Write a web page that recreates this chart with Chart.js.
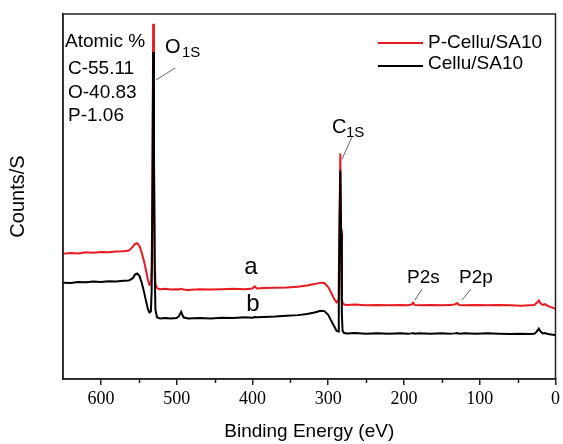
<!DOCTYPE html>
<html>
<head>
<meta charset="utf-8">
<script src="https://cdn.jsdelivr.net/npm/chart.js@4/dist/chart.umd.min.js"></script>
<style>
  html, body { margin: 0; padding: 0; background: #fff; }
  #wrap { width: 563px; height: 444px; }
</style>
</head>
<body>
<div id="wrap"><canvas id="xps"></canvas></div>
<script>
// binding energy (eV)
const energy = [650, 640, 630, 620, 610, 600, 590, 580, 570, 563, 558, 555, 552, 549, 546, 543, 540, 538, 536, 534,
  533, 532, 531, 530, 529, 528, 526, 522, 515, 508, 500, 497, 494, 491, 485, 470, 455, 440, 425, 410,
  400, 397, 394, 385, 370, 355, 340, 328, 318, 310, 305, 300, 296, 292, 289, 287, 286, 285, 284, 283,
  282, 281, 279, 275, 265, 250, 235, 220, 205, 195, 190, 188, 186, 180, 165, 150, 140, 133, 130, 127,
  120, 105, 90, 75, 60, 45, 35, 28, 25, 22, 20, 17, 14, 10, 6, 3, 0]

// counts (arbitrary units, 0-100 of the frame height)
const pCellu = [34.3, 34.5, 34.4, 34.7, 34.6, 34.8, 34.7, 34.9, 35.0, 35.2, 36.2, 37.0, 37.2, 36.4, 34.6, 32.2, 29.4, 27.2, 25.8, 26.0,
  30.0, 53.0, 97.3, 66.0, 34.0, 26.0, 24.9, 24.6, 24.7, 24.5, 24.6, 24.5, 24.7, 24.5, 24.4, 24.6, 24.5, 24.6, 24.7, 24.6,
  24.8, 25.4, 24.8, 24.9, 25.0, 25.1, 25.3, 25.6, 26.0, 26.4, 26.3, 25.2, 23.6, 21.9, 21.0, 21.5, 27.0, 45.0, 61.8, 41.0,
  22.0, 20.8, 20.4, 20.3, 20.4, 20.2, 20.3, 20.2, 20.3, 20.2, 20.4, 20.9, 20.3, 20.2, 20.3, 20.2, 20.3, 20.4, 20.8, 20.3,
  20.2, 20.3, 20.2, 20.3, 20.2, 20.1, 20.2, 20.3, 20.8, 21.5, 20.8, 20.3, 20.5, 20.0, 19.7, 19.5, 19.2]

const cellu = [26.4, 26.3, 26.6, 26.5, 26.7, 26.6, 26.8, 26.7, 26.9, 27.0, 27.6, 28.6, 28.9, 28.2, 26.3, 23.8, 21.0, 19.2, 18.2, 18.5,
  24.0, 50.0, 89.6, 62.0, 30.0, 19.0, 16.9, 16.6, 16.7, 16.6, 16.7, 17.2, 18.4, 16.9, 16.6, 16.7, 16.6, 16.8, 16.7, 16.9,
  16.8, 17.0, 16.9, 17.0, 17.1, 17.3, 17.5, 17.8, 18.2, 18.7, 18.6, 17.6, 16.0, 14.4, 13.2, 13.0, 22.0, 42.0, 57.1, 40.0,
  18.0, 13.2, 12.6, 12.5, 12.6, 12.4, 12.5, 12.4, 12.5, 12.4, 12.5, 12.6, 12.4, 12.5, 12.4, 12.5, 12.4, 12.5, 12.6, 12.4,
  12.5, 12.4, 12.5, 12.4, 12.3, 12.4, 12.3, 12.4, 12.9, 13.8, 13.1, 12.5, 12.6, 12.3, 12.2, 12.1, 12.0]

const seriesNames = ['P-Cellu/SA10', 'Cellu/SA10']
const composition = ['Atomic %', 'C-55.11', 'O-40.83', 'P-1.06']
const minorTicks = [550, 450, 350, 250, 150, 50]

const RED = '#e8191f'
const SANS = '"Liberation Sans", Arial, sans-serif'

const toPoints = (ys) => energy.map((e, i) => ({ x: e, y: ys[i] }))

const decorations = {
  id: 'decorations',
  afterDraw(chart) {
    const { ctx, chartArea: a, scales: { x } } = chart
    ctx.save()

    // frame
    ctx.strokeStyle = '#222'
    ctx.lineWidth = 1.5
    ctx.strokeRect(a.left, a.top, a.right - a.left, a.bottom - a.top)

    // minor ticks
    ctx.beginPath()
    minorTicks.forEach(v => {
      const px = Math.round(x.getPixelForValue(v)) + 0.5
      ctx.moveTo(px, a.bottom)
      ctx.lineTo(px, a.bottom + 4)
    })
    ctx.stroke()

    // atomic composition text
    ctx.fillStyle = '#000'
    ctx.textBaseline = 'middle'
    ctx.textAlign = 'left'
    ctx.font = '19px ' + SANS
    ctx.fillText(composition[0], 65, 42)
    ctx.fillText(composition[1], 68, 68.5)
    ctx.fillText(composition[2], 68, 92.5)
    ctx.fillText(composition[3], 68, 116)

    // peak labels
    ctx.font = '20px ' + SANS
    ctx.fillText('O', 165, 47)
    ctx.fillText('C', 332, 127)
    ctx.font = '15px ' + SANS
    ctx.fillText('1S', 182, 53)
    ctx.fillText('1S', 346, 133)
    ctx.font = '19px ' + SANS
    ctx.fillText('P2s', 407, 278)
    ctx.fillText('P2p', 459, 278)

    ctx.font = '24px ' + SANS
    ctx.textAlign = 'center'
    ctx.fillText('a', 251, 267)
    ctx.fillText('b', 253, 304)

    // leader lines
    ctx.strokeStyle = '#666'
    ctx.lineWidth = 1
    ctx.beginPath()
    ctx.moveTo(156, 80); ctx.lineTo(175, 68)
    ctx.moveTo(342, 159); ctx.lineTo(352, 137)
    ctx.moveTo(415, 300); ctx.lineTo(422, 289)
    ctx.moveTo(462, 300); ctx.lineTo(471, 289)
    ctx.stroke()

    // legend
    ctx.lineWidth = 2
    ctx.strokeStyle = RED
    ctx.beginPath(); ctx.moveTo(378, 43); ctx.lineTo(423, 43); ctx.stroke()
    ctx.strokeStyle = '#000'
    ctx.beginPath(); ctx.moveTo(378, 66); ctx.lineTo(423, 66); ctx.stroke()
    ctx.textAlign = 'left'
    ctx.font = '19px ' + SANS
    ctx.fillText(seriesNames[0], 428, 43)
    ctx.fillText(seriesNames[1], 428, 64)

    ctx.restore()
  }
}

new Chart(document.getElementById('xps'), {
  type: 'line',
  data: {
    datasets: [
      { label: seriesNames[0], data: toPoints(pCellu), borderColor: RED, order: 2 },
      { label: seriesNames[1], data: toPoints(cellu), borderColor: '#000', order: 1 }
    ]
  },
  options: {
    responsive: true,
    maintainAspectRatio: false,
    animation: false,
    layout: { padding: { top: 14, right: 5, left: 0, bottom: 0 } },
    elements: {
      point: { radius: 0 },
      line: { borderWidth: 2, tension: 0 }
    },
    plugins: { legend: { display: false }, tooltip: { enabled: false } },
    scales: {
      x: {
        type: 'linear',
        reverse: true,
        min: 0,
        max: 650,
        afterFit: (s) => { s.height = 65 },
        grid: { drawOnChartArea: false, color: '#222', lineWidth: 1.5, tickLength: 6 },
        border: { color: '#222', width: 1.5 },
        ticks: {
          stepSize: 100,
          includeBounds: false,
          maxRotation: 0,
          autoSkip: false,
          padding: 3,
          color: '#000',
          font: { family: '"Liberation Serif", "Times New Roman", serif', size: 18 }
        },
        title: {
          display: true,
          text: 'Binding Energy (eV)',
          color: '#000',
          font: { family: SANS, size: 19 },
          padding: { top: 0, bottom: 1 }
        }
      },
      y: {
        min: 0,
        max: 100,
        afterFit: (s) => { s.width = 63 },
        grid: { display: false },
        border: { color: '#222', width: 1.5 },
        ticks: { display: false },
        title: {
          display: true,
          text: 'Counts/S',
          color: '#000',
          font: { family: SANS, size: 20 },
          padding: { top: 6, bottom: 0 }
        }
      }
    }
  },
  plugins: [decorations]
})
</script>
</body>
</html>
